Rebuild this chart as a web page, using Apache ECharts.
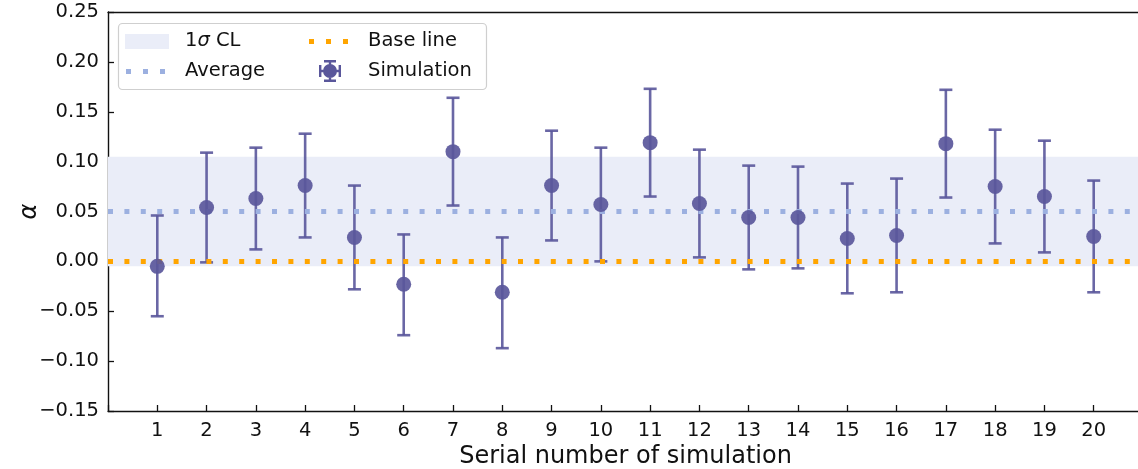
<!DOCTYPE html>
<html>
<head>
<meta charset="utf-8">
<script src="https://cdn.jsdelivr.net/npm/echarts@6/dist/echarts.min.js"></script>
<style>
  html, body { margin: 0; padding: 0; background: #fff; }
  #chart { width: 1138px; height: 469px; }
</style>
</head>
<body>
<div id="chart"></div>
<script>
// simulation index and fitted alpha with its 1-sigma bounds
const simNo = [1, 2, 3, 4, 5, 6, 7, 8, 9, 10, 11, 12, 13, 14, 15, 16, 17, 18, 19, 20];
const alphaVal = [-0.005, 0.054, 0.063, 0.076, 0.024, -0.023, 0.110, -0.031, 0.076, 0.057,
                  0.119, 0.058, 0.044, 0.044, 0.023, 0.026, 0.118, 0.075, 0.065, 0.025];
const alphaLow = [-0.055, -0.001, 0.012, 0.024, -0.028, -0.074, 0.056, -0.087, 0.021, 0.000,
                  0.065, 0.004, -0.008, -0.007, -0.032, -0.031, 0.064, 0.018, 0.009, -0.031];
const alphaHigh = [0.046, 0.109, 0.114, 0.128, 0.076, 0.027, 0.164, 0.024, 0.131, 0.114,
                   0.173, 0.112, 0.096, 0.095, 0.078, 0.083, 0.172, 0.132, 0.121, 0.081];
const averageAlpha = 0.05;
const baseAlpha = 0;
const clLow = -0.005;
const clHigh = 0.105;
const xRange = [0, 21];
const yRange = [-0.15, 0.25];
const yStep = 0.05;

const FONT = "DejaVu Sans";
const simColor = "#5a579b";
const avgColor = "#9cb0e0";
const baseColor = "#ffa500";
const bandColor = "#eaedf8";

// legend icons (55x22 boxes, corner points keep the box size)
const BOX = "M0,0L0,0 M55,22L55,22 ";
const bandIcon = "path://" + BOX + "M0,4h44v15h-44z";
const dotIcon = "path://" + BOX + "M1,9h5v5h-5z M18,9h5v5h-5z M35,9h5v5h-5z";
const simIcon = "path://" + BOX +
  "M16,0h12v2.4h-12z M16,19.6h12v2.4h-12z M20.8,0h2.4v22h-2.4z" +
  " M11,5h2.4v12h-2.4z M30.6,5h2.4v12h-2.4z M11,9.8h22v2.4h-22z" +
  " M15,11a7,7 0 1,1 14,0a7,7 0 1,1 -14,0z";

const chart = echarts.init(document.getElementById("chart"));

const errData = simNo.map((n, i) => [n, alphaLow[i], alphaHigh[i]]);
const ptData = simNo.map((n, i) => [n, alphaVal[i]]);

const legendText = {
  fontFamily: FONT, fontSize: 19.5, color: "#111",
  rich: { s: { fontFamily: FONT, fontSize: 19.5, fontStyle: "italic", color: "#111" } }
};
const legendFmt = name => name === "1σ CL" ? "1{s|σ} CL" : name;
const tickStyle = { show: true, inside: true, length: 6, lineStyle: { color: "#111", width: 1.3 } };
const spine = { show: true, onZero: false, lineStyle: { color: "#111", width: 1.4 } };

chart.setOption({
  animation: false,
  grid: { left: 108, right: -5, top: 12, bottom: 58, outerBoundsMode: "none", containLabel: false },
  graphic: [{
    type: "rect", z: 90,
    shape: { x: 118.5, y: 23.5, width: 368, height: 66, r: 4 },
    style: { fill: "rgba(255,255,255,0.85)", stroke: "#cfcfcf", lineWidth: 1.2 }
  }],
  legend: [
    {
      left: 125, top: 30, orient: "vertical", padding: 0, itemGap: 8,
      itemWidth: 55, itemHeight: 22, z: 100, selectedMode: false,
      data: [{ name: "1σ CL", icon: bandIcon }, { name: "Average", icon: dotIcon }],
      textStyle: legendText, formatter: legendFmt
    },
    {
      left: 308, top: 30, orient: "vertical", padding: 0, itemGap: 8,
      itemWidth: 55, itemHeight: 22, z: 100, selectedMode: false,
      data: [{ name: "Base line", icon: dotIcon }, { name: "Simulation", icon: simIcon }],
      textStyle: legendText, formatter: legendFmt
    }
  ],
  xAxis: [
    {
      type: "value", position: "bottom", min: xRange[0], max: xRange[1], interval: 1,
      name: "Serial number of simulation", nameLocation: "middle", nameGap: 34, nameMoveOverlap: false,
      nameTextStyle: { fontFamily: FONT, fontSize: 24, color: "#111" },
      axisLine: spine,
      axisTick: tickStyle,
      axisLabel: {
        margin: 10, fontFamily: FONT, fontSize: 19.5, color: "#111",
        formatter: v => simNo.indexOf(v) >= 0 ? String(v) : ""
      },
      splitLine: { show: false }
    },
    {
      type: "value", position: "top", min: xRange[0], max: xRange[1],
      axisLine: spine,
      axisTick: { show: false }, axisLabel: { show: false }, splitLine: { show: false }
    }
  ],
  yAxis: {
    type: "value", position: "left", min: yRange[0], max: yRange[1], interval: yStep,
    name: "α", nameLocation: "middle", nameGap: 66, nameRotate: 90, nameMoveOverlap: false,
    nameTextStyle: { fontFamily: FONT, fontSize: 24, fontStyle: "italic", color: "#111" },
    axisLine: spine,
    axisTick: tickStyle,
    axisLabel: {
      margin: 9, fontFamily: FONT, fontSize: 19.5, color: "#111",
      formatter: v => (v < -1e-9 ? "\u2212" : "") + Math.abs(v).toFixed(2)
    },
    splitLine: { show: false }
  },
  series: [
    {
      name: "1σ CL", type: "line", data: [], symbol: "none",
      itemStyle: { color: bandColor },
      markArea: {
        silent: true,
        itemStyle: { color: bandColor },
        data: [[{ yAxis: clLow }, { yAxis: clHigh }]]
      },
      z: 1
    },
    {
      name: "Simulation", type: "custom", z: 3,
      itemStyle: { color: simColor },
      data: errData,
      renderItem: (params, api) => {
        const x = api.value(0);
        const lo = api.coord([x, api.value(1)]);
        const hi = api.coord([x, api.value(2)]);
        const half = 6.5;
        const st = { stroke: simColor, lineWidth: 2.6, opacity: 0.9 };
        return {
          type: "group",
          children: [
            { type: "line", shape: { x1: lo[0], y1: lo[1], x2: hi[0], y2: hi[1] }, style: st },
            { type: "line", shape: { x1: lo[0] - half, y1: lo[1], x2: lo[0] + half, y2: lo[1] }, style: st },
            { type: "line", shape: { x1: hi[0] - half, y1: hi[1], x2: hi[0] + half, y2: hi[1] }, style: st }
          ]
        };
      }
    },
    {
      name: "Average", type: "line", symbol: "none", z: 4,
      data: [[xRange[0], averageAlpha], [xRange[1], averageAlpha]],
      itemStyle: { color: avgColor },
      lineStyle: { color: avgColor, width: 5, type: [5, 11.4], cap: "butt" }
    },
    {
      name: "Base line", type: "line", symbol: "none", z: 4,
      data: [[xRange[0], baseAlpha], [xRange[1], baseAlpha]],
      itemStyle: { color: baseColor },
      lineStyle: { color: baseColor, width: 5, type: [5, 11.4], cap: "butt" }
    },
    {
      name: "Simulation", type: "scatter", z: 5,
      symbol: "circle", symbolSize: 15,
      data: ptData,
      itemStyle: { color: simColor, opacity: 0.92 }
    }
  ]
});
</script>
</body>
</html>
